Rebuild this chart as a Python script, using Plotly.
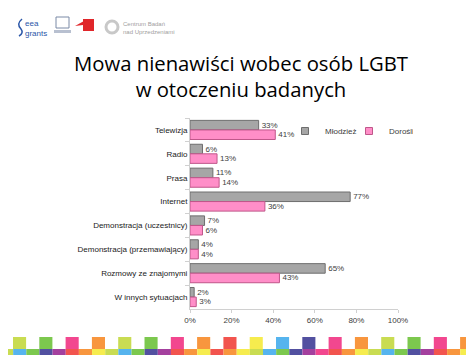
import plotly.graph_objects as go

categories = ["Telewizja", "Radio", "Prasa", "Internet", "Demonstracja (uczestnicy)",
              "Demonstracja (przemawiający)", "Rozmowy ze znajomymi", "W innych sytuacjach"]
mlodziez = [33, 6, 11, 77, 7, 4, 65, 2]
dorosli = [41, 13, 14, 36, 6, 4, 43, 3]
series_names = ["Młodzież", "Dorośli"]
x_ticks = [0, 20, 40, 60, 80, 100]

strip_top_colors = ["#c9dc52", "#7cc84e", "#f2478f", "#f8963e", "#c9dc52", "#7cc84e", "#f2478f",
                    "#f8963e", "#f2544e", "#f6ec4e", "#56b4ee", "#5250a0", "#f2478f", "#f8963e",
                    "#c9dc52", "#7cc84e", "#f2478f", "#f8963e"]
strip_bottom_colors = ["#c9dc52", "#56b4ee", "#7cc84e", "#5250a0", "#a4409e", "#f2544e", "#f8963e",
                       "#f6ec4e", "#c9dc52", "#56b4ee", "#7cc84e", "#5250a0", "#a4409e", "#f2544e",
                       "#f8963e", "#f6ec4e", "#f2544e", "#f8963e", "#f6ec4e", "#c9dc52", "#56b4ee",
                       "#7cc84e", "#5250a0", "#a4409e", "#f2478f", "#f2544e", "#f8963e", "#f6ec4e",
                       "#c9dc52", "#56b4ee", "#7cc84e", "#5250a0", "#a4409e", "#f2544e", "#f8963e",
                       "#f6ec4e", "#c9dc52"]

# page has an 8px body margin: the figure starts at screen (8, 8)
OFF = 8
SW, SH = 474, 355
W, H = SW - OFF, SH - OFF
L, R, T, B = 190, 398, 118, 309   # plot area in screen pixels


def px(x):
    return (x - L) / (R - L)


def py(y):
    return (B - y) / (B - T)


FONT = "Liberation Sans"
GRAY, GRAY_LINE = "#a6a6a6", "#6e6e6e"
PINK, PINK_LINE = "#ff8ec8", "#c0568a"

fig = go.Figure()
fig.add_trace(go.Bar(
    y=categories, x=mlodziez, name=series_names[0], orientation="h", showlegend=False,
    marker=dict(color=GRAY, line=dict(color=GRAY_LINE, width=1)),
    texttemplate="%{x}%", textposition="outside",
    textfont=dict(size=8, color="#404040", family=FONT), cliponaxis=False,
))
fig.add_trace(go.Bar(
    y=categories, x=dorosli, name=series_names[1], orientation="h", showlegend=False,
    marker=dict(color=PINK, line=dict(color=PINK_LINE, width=1)),
    texttemplate="%{x}%", textposition="outside",
    textfont=dict(size=8, color="#404040", family=FONT), cliponaxis=False,
))
# legend entries with small square swatches
for name, c, lc in [(series_names[0], GRAY, GRAY_LINE), (series_names[1], PINK, PINK_LINE)]:
    fig.add_trace(go.Scatter(x=[None], y=[None], mode="markers", name=name,
                             marker=dict(symbol="square", size=7, color=c, line=dict(color=lc, width=1))))

shapes = []
for i, c in enumerate(strip_top_colors):
    x0 = 13 + i * 26.3
    shapes.append(dict(type="rect", xref="paper", yref="paper", x0=px(x0), x1=px(x0 + 13.1),
                       y0=py(349), y1=py(337), fillcolor=c, line=dict(width=0), layer="above"))
for i, c in enumerate(strip_bottom_colors):
    x0 = i * 13.15
    shapes.append(dict(type="rect", xref="paper", yref="paper", x0=px(x0), x1=px(x0 + 13.15),
                       y0=py(356), y1=py(349), fillcolor=c, line=dict(width=0), layer="above"))
# logos
shapes.append(dict(type="path", xref="paper", yref="paper",
                   path=f"M {px(22)} {py(19)} Q {px(16)} {py(24)} {px(21)} {py(29)} Q {px(24)} {py(33)} {px(19)} {py(36)}",
                   line=dict(color="#2a56a8", width=1.5)))
shapes.append(dict(type="rect", xref="paper", yref="paper", x0=px(56), x1=px(69), y0=py(28), y1=py(17),
                   line=dict(color="#7a8aa6", width=1), fillcolor="rgba(0,0,0,0)"))
shapes.append(dict(type="rect", xref="paper", yref="paper", x0=px(54), x1=px(71), y0=py(33), y1=py(30),
                   line=dict(width=0), fillcolor="#b8c0d0"))
shapes.append(dict(type="path", xref="paper", yref="paper",
                   path=f"M {px(75)} {py(26)} L {px(84)} {py(21)} L {px(83)} {py(25)} Z",
                   line=dict(width=0), fillcolor="#e0262a"))
shapes.append(dict(type="rect", xref="paper", yref="paper", x0=px(83), x1=px(94), y0=py(31), y1=py(19),
                   line=dict(width=0), fillcolor="#e0262a"))
shapes.append(dict(type="circle", xref="paper", yref="paper", x0=px(106), x1=px(118), y0=py(33), y1=py(21),
                   line=dict(color="#c8c8c8", width=3), fillcolor="rgba(0,0,0,0)"))

annotations = [
    dict(text="eea<br>grants", x=px(23), y=py(28), xref="paper", yref="paper", showarrow=False,
         xanchor="left", yanchor="middle", font=dict(size=8, color="#2a56a8", family=FONT), align="left"),
    dict(text="Centrum Badań<br>nad Uprzedzeniami", x=px(121), y=py(28), xref="paper", yref="paper",
         showarrow=False, xanchor="left", yanchor="middle",
         font=dict(size=6, color="#a0a0a0", family=FONT), align="left"),
]

fig.update_layout(
    width=W, height=H,
    margin=dict(l=L - OFF, r=SW - R, t=T - OFF, b=SH - B),
    paper_bgcolor="white", plot_bgcolor="white",
    barmode="group", bargap=0.2, bargroupgap=0,
    title=dict(text="Mowa nienawiści wobec osób LGBT<br>w otoczeniu badanych",
               x=0.5, xanchor="center", y=1 - (71 - OFF) / H, yanchor="middle", yref="container",
               font=dict(size=20.3, color="#000000", family="Open Sans")),
    xaxis=dict(range=[0, 100], tickvals=x_ticks, ticktext=[f"{v}%" for v in x_ticks],
               showgrid=False, zeroline=False, showline=True, linecolor="#d0d0d0", linewidth=1,
               ticks="outside", ticklen=3, tickcolor="#d0d0d0",
               tickfont=dict(size=8, color="#404040", family=FONT), fixedrange=True),
    yaxis=dict(autorange="reversed", showgrid=False, showline=True, linecolor="#d0d0d0", linewidth=1,
               ticks="outside", ticklen=4, tickcolor="#d0d0d0", tickson="boundaries",
               tickfont=dict(size=8, color="#1a1a1a", family=FONT), fixedrange=True),
    legend=dict(orientation="h", x=px(285), y=py(131), xanchor="left", yanchor="middle",
                font=dict(size=8, color="#404040", family=FONT), itemwidth=30, entrywidth=19,
                bgcolor="rgba(0,0,0,0)", traceorder="normal"),
    shapes=shapes, annotations=annotations,
)

fig.write_html("out.html")
